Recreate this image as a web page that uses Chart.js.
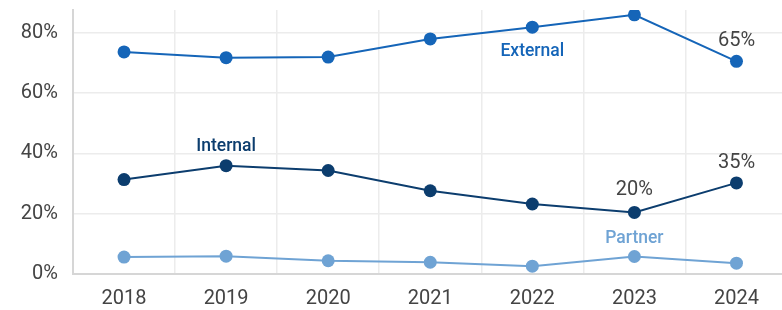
<!DOCTYPE html>
<html>
<head>
<meta charset="utf-8">
<script src="https://cdn.jsdelivr.net/npm/chart.js@4/dist/chart.umd.min.js"></script>
<style>
  html, body { margin: 0; padding: 0; background: #fff; overflow: hidden; }
  #wrap { width: 794px; height: 310px; }
</style>
</head>
<body>
<div id="wrap"><canvas id="chart" width="794" height="310"></canvas></div>
<script>
const years = ['2018', '2019', '2020', '2021', '2022', '2023', '2024'];
const external = [73.6, 71.7, 71.9, 77.9, 81.8, 85.9, 70.5];
const internal = [31.3, 35.9, 34.3, 27.6, 23.2, 20.4, 30.2];
const partner = [5.6, 5.9, 4.4, 3.9, 2.6, 5.8, 3.6];
const yTicks = [0, 20, 40, 60, 80];

// series names shown next to a point, and the value notes
const seriesLabels = [
  { text: 'External', series: 0, index: 4, dy: 24, color: '#1565b8' },
  { text: 'Internal', series: 1, index: 1, dy: -19, color: '#0c3d6e' },
  { text: 'Partner', series: 2, index: 5, dy: -18, color: '#6fa3d4' }
];
const valueNotes = [
  { text: '65%', series: 0, index: 6, dy: -20 },
  { text: '35%', series: 1, index: 6, dy: -20 },
  { text: '20%', series: 1, index: 5, dy: -22 }
];

const notesPlugin = {
  id: 'notes',
  afterDatasetsDraw(chart) {
    const ctx = chart.ctx;
    ctx.save();
    ctx.textAlign = 'center';
    ctx.textBaseline = 'middle';
    seriesLabels.forEach(l => {
      const p = chart.getDatasetMeta(l.series).data[l.index];
      ctx.font = '500 17.5px Roboto';
      ctx.fillStyle = l.color;
      ctx.fillText(l.text, p.x, p.y + l.dy);
    });
    valueNotes.forEach(l => {
      const p = chart.getDatasetMeta(l.series).data[l.index];
      ctx.font = '20px Roboto';
      ctx.fillStyle = '#444';
      ctx.fillText(l.text, p.x, p.y + l.dy);
    });
    ctx.restore();
  }
};

function line(data, color) {
  return {
    data: data,
    borderColor: color,
    backgroundColor: color,
    pointBackgroundColor: color,
    pointBorderWidth: 0,
    pointRadius: 6.5,
    borderWidth: 2,
    tension: 0
  };
}

function noPad(s) {
  s.paddingTop = 0;
  s.paddingBottom = 0;
  s.paddingLeft = 0;
  s.paddingRight = 0;
}

new Chart(document.getElementById('chart'), {
  type: 'line',
  data: {
    labels: years,
    datasets: [
      line(external, '#1565b8'),
      line(internal, '#0c3d6e'),
      line(partner, '#6fa3d4')
    ]
  },
  options: {
    responsive: false,
    animation: false,
    layout: { padding: { top: 10, right: 1, left: 0, bottom: 0 } },
    plugins: { legend: { display: false }, tooltip: { enabled: false } },
    scales: {
      x: {
        offset: true,
        grid: { color: '#ececec', lineWidth: 1.5, drawTicks: false, offset: true },
        border: { color: '#d6d6d6', width: 2 },
        ticks: { color: '#444', font: { family: 'Roboto', size: 20 }, padding: 13 },
        afterFit(s) { s.height = 36; noPad(s); }
      },
      y: {
        min: 0,
        max: 87.5,
        grid: { color: '#ececec', lineWidth: 1.5, drawTicks: false },
        border: { color: '#d6d6d6', width: 2 },
        ticks: {
          color: '#444',
          font: { family: 'Roboto', size: 20 },
          padding: 15,
          callback: v => v + '%'
        },
        afterBuildTicks(s) { s.ticks = yTicks.map(v => ({ value: v })); },
        afterFit(s) { s.width = 73; noPad(s); }
      }
    }
  },
  plugins: [notesPlugin]
});
</script>
</body>
</html>
